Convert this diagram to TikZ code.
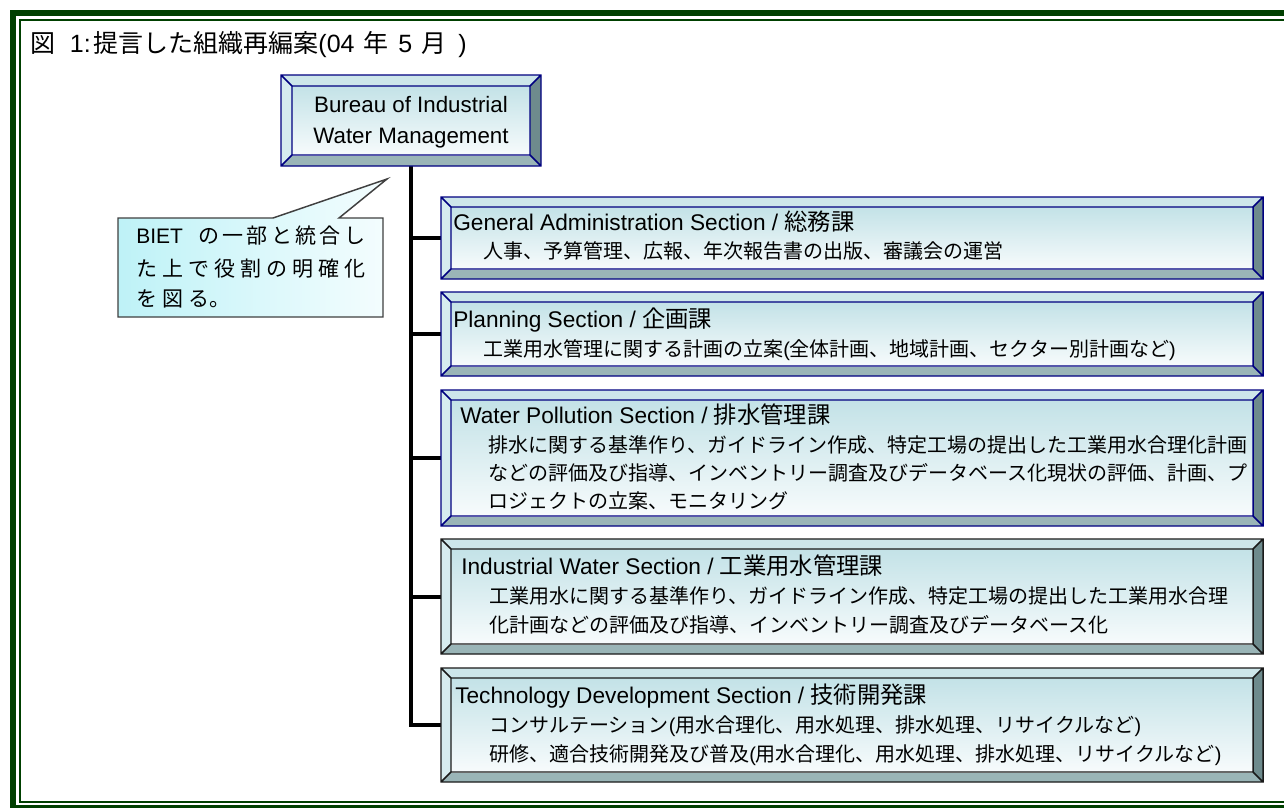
\documentclass[tikz,border=0pt]{standalone}
\usepackage{fontspec}
\setmainfont{Noto Sans CJK JP}
\newfontfamily\lat{Liberation Sans}
\usetikzlibrary{calc}
\definecolor{frameg}{HTML}{004000}
\definecolor{navyln}{HTML}{000080}
\definecolor{darkln}{HTML}{1A1A1A}
\definecolor{bvtopc}{HTML}{CDE6EA}
\definecolor{bvleftc}{HTML}{D6ECEF}
\definecolor{bvrightc}{HTML}{6E8B8D}
\definecolor{bvbotc}{HTML}{9AB5B7}
\definecolor{innertop}{HTML}{C3E2E7}
\definecolor{innerbot}{HTML}{F7FBFC}
\definecolor{callA}{HTML}{BEF2F7}
\definecolor{callB}{HTML}{F4FDFE}
\definecolor{callln}{HTML}{404040}
\newcommand\enpart[1]{{\lat\fontsize{17}{18}\selectfont #1}}
\newcommand\jtitle[1]{{\fontsize{17.5}{18}\selectfont #1}}
\newcommand\lp[1]{{\lat #1}}
\newcommand\bevelbox[3]{%
  \coordinate (#1-a) at ($(#1.north west)+(#3,#3)$);
  \coordinate (#1-b) at ($(#1.north east)+(-#3,#3)$);
  \coordinate (#1-c) at ($(#1.south east)+(-#3,-#3)$);
  \coordinate (#1-d) at ($(#1.south west)+(#3,-#3)$);
  \fill[bvtopc] (#1.north west) -- (#1.north east) -- (#1-b) -- (#1-a) -- cycle;
  \fill[bvleftc] (#1.north west) -- (#1-a) -- (#1-d) -- (#1.south west) -- cycle;
  \fill[bvrightc] (#1.north east) -- (#1.south east) -- (#1-c) -- (#1-b) -- cycle;
  \fill[bvbotc] (#1.south west) -- (#1-d) -- (#1-c) -- (#1.south east) -- cycle;
  \shade[top color=innertop, bottom color=innerbot] (#1-a) rectangle (#1-c);
  \draw[#2, line width=1.1pt, line join=miter] (#1.north west) rectangle (#1.south east)
     (#1-a) rectangle (#1-c)
     (#1.north west) -- (#1-a) (#1.north east) -- (#1-b)
     (#1.south east) -- (#1-c) (#1.south west) -- (#1-d);
}
\begin{document}
\begin{tikzpicture}[x=0.75pt,y=-0.75pt,
  secbox/.style={inner sep=0pt, outer sep=0pt, minimum width=616.5pt},
  conn/.style={line width=3pt, black},
  txt/.style={anchor=base west, inner sep=0pt, font=\fontsize{15}{18}\selectfont},
  calltxt/.style={anchor=base west, inner sep=0pt, font=\fontsize{15.75}{18}\selectfont}]
\useasboundingbox (0,0) rectangle (1284,807);
\clip (0,0) rectangle (1284,807);
\fill[white] (0,0) rectangle (1284,807);
% frame (right side lies outside the picture)
\draw[frameg, line width=4.5pt, line join=miter] (1300,13) -- (13,13) -- (13,808) -- (1300,808);
\draw[frameg, line width=1.5pt, line join=miter] (1300,20) -- (20,20) -- (20,802) -- (1300,802);
% title
\node[anchor=base west, inner sep=0pt, font=\fontsize{18.75}{20}\selectfont] (title) at (30,52)
  {図\hspace{11pt}{\lat 1:}\hspace{2pt}提言した組織再編案{\lat(04}\hspace{7pt}年\hspace{7pt}{\lat 5}\hspace{7pt}月\hspace{9pt}{\lat)}};
% placeholder nodes
\node[inner sep=0pt, outer sep=0pt, minimum width=195pt, minimum height=68.25pt] (top) at (411,120.5) {};
\node[secbox, minimum height=61.5pt] (b1) at (852,238) {};
\node[secbox, minimum height=63pt] (b2) at (852,334) {};
\node[secbox, minimum height=102pt] (b3) at (852,458) {};
\node[secbox, minimum height=86.25pt] (b4) at (852,596.5) {};
\node[secbox, minimum height=85.5pt] (b5) at (852,725) {};
% connectors
\draw[conn] (top.south) |- (b5.west);
\draw[conn] (top.south |- b1.west) -- (b1.west);
\draw[conn] (top.south |- b2.west) -- (b2.west);
\draw[conn] (top.south |- b3.west) -- (b3.west);
\draw[conn] (top.south |- b4.west) -- (b4.west);
% boxes
\bevelbox{top}{navyln}{11}
\bevelbox{b1}{navyln}{10}
\bevelbox{b2}{navyln}{10}
\bevelbox{b3}{navyln}{10}
\bevelbox{b4}{darkln}{10}
\bevelbox{b5}{darkln}{10}
% top text
\node[align=center, inner sep=0pt, font=\lat\fontsize{16.75}{23.25}\selectfont] (toptxt) at (411,122)
  {Bureau of Industrial\\Water Management};
% section texts
\node[txt] (b1t) at (453,230) {\enpart{General Administration Section / }\jtitle{総務課}};
\node[txt] (b1d) at (483,258) {人事、予算管理、広報、年次報告書の出版、審議会の運営};
\node[txt] (b2t) at (453,327) {\enpart{Planning Section / }\jtitle{企画課}};
\node[txt] (b2d) at (483,356) {工業用水管理に関する計画の立案\lp{(}全体計画、地域計画、セクター別計画など\lp{)}};
\node[txt] (b3t) at (460,423) {\enpart{Water Pollution Section / }\jtitle{排水管理課}};
\node[txt] (b3d1) at (488,452) {排水に関する基準作り、ガイドライン作成、特定工場の提出した工業用水合理化計画};
\node[txt] (b3d2) at (488,480) {などの評価及び指導、インベントリー調査及びデータベース化現状の評価、計画、プ};
\node[txt] (b3d3) at (488,508) {ロジェクトの立案、モニタリング};
\node[txt] (b4t) at (461,574) {\enpart{Industrial Water Section / }\jtitle{工業用水管理課}};
\node[txt] (b4d1) at (489,603) {工業用水に関する基準作り、ガイドライン作成、特定工場の提出した工業用水合理};
\node[txt] (b4d2) at (489,632) {化計画などの評価及び指導、インベントリー調査及びデータベース化};
\node[txt] (b5t) at (455,703) {\enpart{Technology Development Section / }\jtitle{技術開発課}};
\node[txt] (b5d1) at (489,732) {コンサルテーション\lp{(}用水合理化、用水処理、排水処理、リサイクルなど\lp{)}};
\node[txt] (b5d2) at (489,761) {研修、適合技術開発及び普及\lp{(}用水合理化、用水処理、排水処理、リサイクルなど\lp{)}};
% callout
\draw[callln, line width=1.1pt, line join=miter, left color=callA, right color=callB]
  (118,218) -- (273,218) -- (387,179) -- (339,218) -- (383,218) -- (383,317) -- (118,317) -- cycle;
\node[calltxt] (c1) at (136,243) {\makebox[171.75pt][s]{{\lat BIET}\hspace{9pt}\hfill の\hfill 一\hfill 部\hfill と\hfill 統\hfill 合\hfill し}};
\node[calltxt] (c2) at (136,276) {\makebox[171.75pt][s]{た\hfill 上\hfill で\hfill 役\hfill 割\hfill の\hfill 明\hfill 確\hfill 化}};
\node[calltxt] (c3) at (136,306) {を\hspace{3.75pt}図\hspace{3.75pt}る。};
\end{tikzpicture}
\end{document}
